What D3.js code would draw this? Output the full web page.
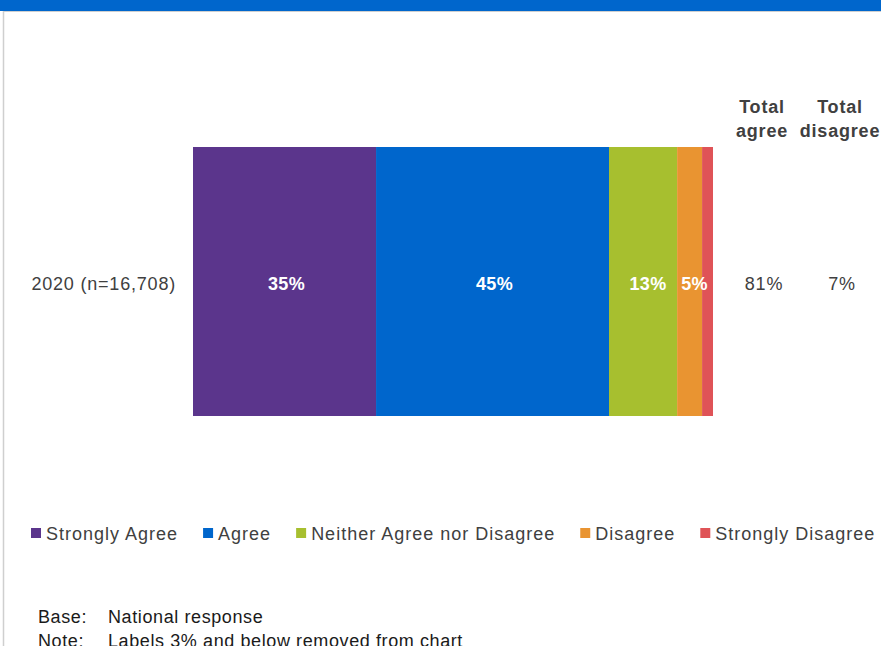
<!DOCTYPE html>
<html>
<head>
<meta charset="utf-8">
<script src="https://cdn.jsdelivr.net/npm/d3@7"></script>
<style>
  body { margin: 0; background: #fff; }
  svg text { font-family: "Liberation Sans", Arial, sans-serif; }
</style>
</head>
<body>
<svg></svg>
<script>
// The data
const categories = ["2020 (n=16,708)"];
const responses = ["Strongly Agree", "Agree", "Neither Agree nor Disagree", "Disagree", "Strongly Disagree"];
const values = [35.2, 44.8, 13.1, 4.8, 2.1];
const colors = ["#5b358c", "#0066cc", "#a7bf2f", "#e99431", "#df5357"];
const totalHeaders = [["Total", "agree"], ["Total", "disagree"]];
const totalValues = [81, 7];
const footLabels = ["Base:", "Note:"];
const footTexts = ["National response", "Labels 3% and below removed  from chart"];

let width = 881;
let height = 646;
const svg = d3.select("svg").attr("width", width).attr("height", height);

// frame: blue title strip and grey border
svg.append("rect").attr("x", 0).attr("y", 0).attr("width", width).attr("height", 11).attr("fill", "#0066cc");
svg.append("line").attr("x1", 3).attr("x2", width).attr("y1", 11.5).attr("y2", 11.5)
    .attr("stroke", "#cfcfcf").attr("stroke-width", 1);
svg.append("line").attr("x1", 3.5).attr("x2", 3.5).attr("y1", 11).attr("y2", height)
    .attr("stroke", "#cfcfcf").attr("stroke-width", 1.5);

// scales
let x = d3.scaleLinear().domain([0, 100]).range([193, 713]);
let y = d3.scaleBand().domain(categories).range([147, 416]).padding(0);

// stack the one row
let stacked = [];
let acc = 0;
values.forEach(function (v, i) {
    stacked.push({ name: responses[i], value: v, x0: acc, x1: acc + v, color: colors[i] });
    acc += v;
});

const chart = svg.append("g");

chart.selectAll("rect.seg")
    .data(stacked)
    .enter()
    .append("rect")
    .attr("class", "seg")
    .attr("x", d => x(d.x0))
    .attr("width", d => x(d.x1) - x(d.x0))
    .attr("y", y(categories[0]))
    .attr("height", y.bandwidth())
    .attr("fill", d => d.color);

let midY = y(categories[0]) + y.bandwidth() / 2;

// segment labels, 3% and below removed
chart.selectAll("text.seg")
    .data(stacked.filter(d => d.value > 3))
    .enter()
    .append("text")
    .attr("x", d => (x(d.x0) + x(d.x1)) / 2 + (d.value < 15 ? 5 : 2))
    .attr("y", midY + 8)
    .attr("text-anchor", "middle")
    .attr("fill", "#fff")
    .style("font-size", "18px")
    .style("font-weight", "bold")
    .style("letter-spacing", "0.4px")
    .text(d => Math.round(d.value) + "%");

// category label
svg.append("text")
    .attr("x", 176)
    .attr("y", midY + 8)
    .attr("text-anchor", "end")
    .attr("fill", "#404040")
    .style("font-size", "18px")
    .style("letter-spacing", "0.8px")
    .text(categories[0]);

// totals columns
let totalX = [762, 840];
totalHeaders.forEach(function (lines, i) {
    let t = svg.append("text")
        .attr("text-anchor", "middle")
        .attr("fill", "#404040")
        .style("font-size", "18px")
        .style("font-weight", "bold")
        .style("letter-spacing", "0.8px");
    lines.forEach(function (l, j) {
        t.append("tspan").attr("x", totalX[i]).attr("y", 113 + j * 24).text(l);
    });
    svg.append("text")
        .attr("x", totalX[i] + 2)
        .attr("y", midY + 8)
        .attr("text-anchor", "middle")
        .attr("fill", "#404040")
        .style("font-size", "18px")
        .style("letter-spacing", "0.8px")
        .text(totalValues[i] + "%");
});

// legend
const legend = svg.append("g");
let lx = 31;
responses.forEach(function (r, i) {
    legend.append("rect")
        .attr("x", lx).attr("y", 528)
        .attr("width", 10).attr("height", 10)
        .attr("fill", colors[i]);
    let t = legend.append("text")
        .attr("x", lx + 15)
        .attr("y", 540)
        .attr("fill", "#404040")
        .style("font-size", "18px")
        .style("letter-spacing", "1px")
        .text(r);
    lx += 15 + t.node().getComputedTextLength() + 25;
});

// footnotes
footLabels.forEach(function (f, i) {
    svg.append("text")
        .attr("x", 38).attr("y", 623 + i * 24)
        .attr("fill", "#1a1a1a")
        .style("font-size", "18px")
        .style("letter-spacing", "0.6px")
        .text(f);
    svg.append("text")
        .attr("x", 108).attr("y", 623 + i * 24)
        .attr("fill", "#1a1a1a")
        .style("font-size", "18px")
        .style("letter-spacing", "0.6px")
        .text(footTexts[i]);
});
</script>
</body>
</html>
